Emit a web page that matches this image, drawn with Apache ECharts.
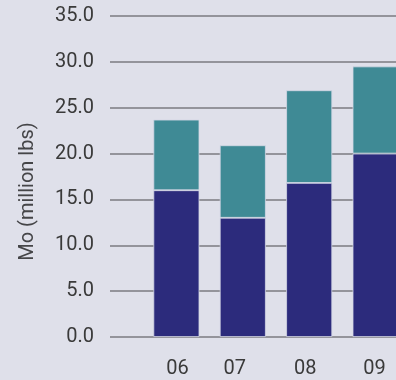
<!DOCTYPE html>
<html>
<head>
<meta charset="utf-8">
<script src="https://cdn.jsdelivr.net/npm/echarts@6/dist/echarts.min.js"></script>
<style>
  html, body { margin: 0; padding: 0; background: #dfe0ea; }
  #chart { width: 396px; height: 380px; }
</style>
</head>
<body>
<div id="chart"></div>
<script>
// empty slots at both ends so the gridlines run past the first and last bar
const years = ['', '06', '07', '08', '09', ''];
const baseValues = [null, 16.0, 13.0, 16.8, 20.0, null];
const topValues = [null, 7.7, 7.9, 10.1, 9.5, null];
const yTicks = [0, 5, 10, 15, 20, 25, 30, 35];

// the printed year labels sit a little left of some bars
const labelShift = { '06': 1, '07': -8, '08': -4, '09': -1 };

let chart = echarts.init(document.getElementById('chart'), null, { renderer: 'canvas' });

let option = {
  backgroundColor: '#dfe0ea',
  animation: false,
  grid: {
    left: 110,
    right: -46,
    top: 16,
    bottom: 43,
    outerBoundsMode: 'none',
    containLabel: false,
  },
  xAxis: {
    type: 'category',
    data: years.map(y => {
      let s = labelShift[y] || 0;
      return {
        value: y,
        textStyle: { padding: s < 0 ? [0, -2 * s, 0, 0] : [0, 0, 0, 2 * s] },
      };
    }),
    boundaryGap: false,
    axisLine: { show: false },
    axisTick: { show: false },
    axisLabel: {
      interval: 0,
      margin: 22,
      fontFamily: 'Roboto',
      fontSize: 20,
      color: '#3a3a3a',
    },
  },
  yAxis: {
    type: 'value',
    min: yTicks[0],
    max: yTicks[yTicks.length - 1],
    interval: 5,
    name: 'Mo (million lbs)',
    nameLocation: 'middle',
    nameGap: 72,
    nameTextStyle: {
      fontFamily: 'Roboto',
      fontSize: 20,
      color: '#454548',
      padding: [0, 30, 0, 0],
    },
    axisLine: { show: false },
    axisTick: { show: false },
    axisLabel: {
      margin: 16,
      fontFamily: 'Roboto',
      fontSize: 20,
      color: '#3a3a3a',
      formatter: function (value) {
        return value.toFixed(1);
      },
    },
    splitLine: {
      lineStyle: { color: '#7b7b80', width: 1.5 },
    },
  },
  series: [
    {
      type: 'bar',
      stack: 'mo',
      barWidth: 46,
      clip: false,
      itemStyle: { color: '#2c2b7c', borderColor: '#d4d8e6', borderWidth: 0.8 },
      data: baseValues,
    },
    {
      type: 'bar',
      stack: 'mo',
      barWidth: 46,
      clip: false,
      itemStyle: { color: '#3f8a95', borderColor: '#d4d8e6', borderWidth: 0.8 },
      data: topValues,
    },
  ],
};
chart.setOption(option);
</script>
</body>
</html>
